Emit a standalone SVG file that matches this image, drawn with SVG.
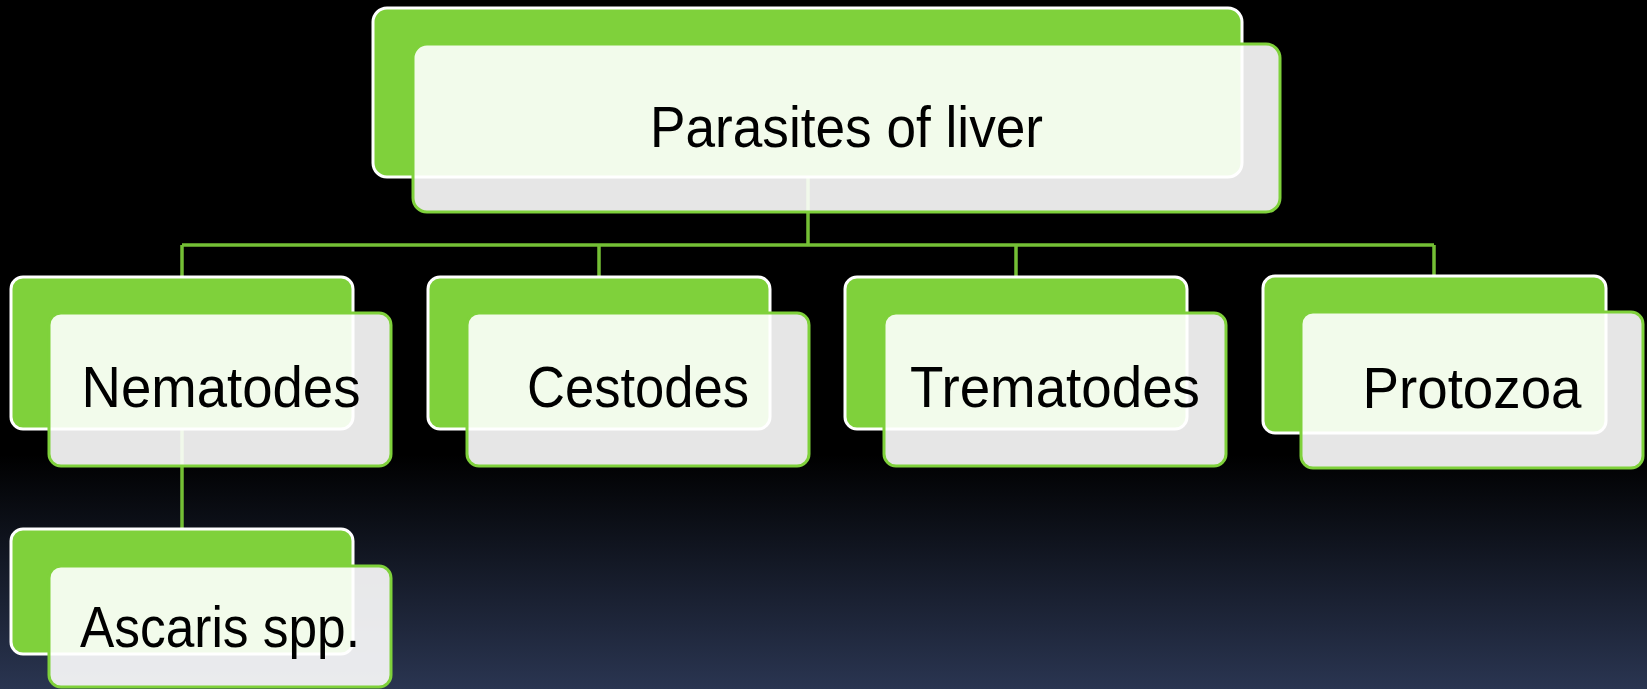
<svg xmlns="http://www.w3.org/2000/svg" width="1647" height="689" viewBox="0 0 1647 689">
  <defs>
    <linearGradient id="bg" x1="0" y1="0" x2="0" y2="1">
      <stop offset="0" stop-color="#000000"/>
      <stop offset="0.66" stop-color="#000000"/>
      <stop offset="1" stop-color="#2a3551"/>
    </linearGradient>
    <style>
      .back { fill: #7fd13b; stroke: #ffffff; stroke-width: 3; }
      .front { fill: #ffffff; fill-opacity: 0.9; stroke: #7fd13b; stroke-width: 3; }
      .lbl { font-family: "Liberation Sans", Arial, sans-serif; font-size: 57px; fill: #000000; text-anchor: middle; }
      .conn { fill: none; stroke: #74bf35; stroke-width: 3.5; }
    </style>
  </defs>
  <rect x="0" y="0" width="1647" height="689" fill="url(#bg)"/>

  <g id="connectors">
    <path class="conn" d="M808 177 V245 M182 245 H1434 M182 245 V277 M599 245 V277 M1016 245 V277 M1434 245 V276 M182 429 V529"/>
  </g>

  <g id="node-parasites">
    <rect class="back" x="373" y="8" width="869" height="169" rx="14"/>
    <rect class="front" x="413" y="44" width="867" height="168" rx="14"/>
    <text class="lbl" x="846.5" y="147" textLength="393" lengthAdjust="spacingAndGlyphs">Parasites of liver</text>
  </g>

  <g id="node-nematodes">
    <rect class="back" x="11" y="277" width="342" height="152" rx="12"/>
    <rect class="front" x="49" y="313" width="342" height="153" rx="12"/>
    <text class="lbl" x="221" y="407" textLength="279" lengthAdjust="spacingAndGlyphs">Nematodes</text>
  </g>

  <g id="node-cestodes">
    <rect class="back" x="428" y="277" width="342" height="152" rx="12"/>
    <rect class="front" x="467" y="313" width="342" height="153" rx="12"/>
    <text class="lbl" x="638" y="407" textLength="222" lengthAdjust="spacingAndGlyphs">Cestodes</text>
  </g>

  <g id="node-trematodes">
    <rect class="back" x="845" y="277" width="342" height="152" rx="12"/>
    <rect class="front" x="884" y="313" width="342" height="153" rx="12"/>
    <text class="lbl" x="1055" y="407" textLength="290" lengthAdjust="spacingAndGlyphs">Trematodes</text>
  </g>

  <g id="node-protozoa">
    <rect class="back" x="1263" y="276" width="343" height="157" rx="12"/>
    <rect class="front" x="1301" y="312" width="342" height="156" rx="12"/>
    <text class="lbl" x="1472" y="408" textLength="219" lengthAdjust="spacingAndGlyphs">Protozoa</text>
  </g>

  <g id="node-ascaris">
    <rect class="back" x="11" y="529" width="342" height="125" rx="12"/>
    <rect class="front" x="49" y="566" width="342" height="121" rx="12"/>
    <text class="lbl" x="220" y="647" textLength="280" lengthAdjust="spacingAndGlyphs">Ascaris spp.</text>
  </g>
</svg>
